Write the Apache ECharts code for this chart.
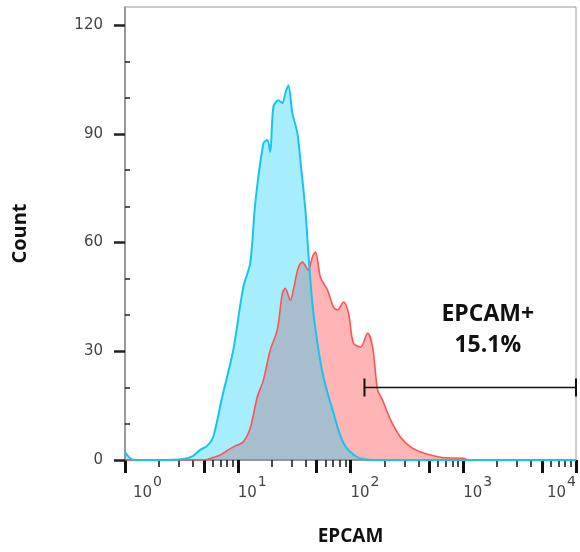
<!DOCTYPE html>
<html>
<head>
<meta charset="utf-8">
<script src="https://cdn.jsdelivr.net/npm/echarts@6/dist/echarts.min.js"></script>
<style>
  html, body { margin: 0; padding: 0; background: #fff; }
  #chart { width: 580px; height: 552px; }
</style>
</head>
<body>
<div id="chart"></div>
<script>
// isotype control (blue) and EPCAM stain (red), intensity vs count
const blueX = [1, 1.11, 1.23, 2.05, 3.28, 4.0, 4.64, 5.36, 6.05, 7.28, 9.12, 11.2, 12.9, 14.3, 16.9, 18.3, 19.4, 20.7, 22.9, 24.9, 26.4, 28.1, 30.5, 33.8, 35.9, 39.8, 42.3, 45.9, 50.9, 57.5, 70.6, 86.7, 115, 160, 10000]
const blueY = [2.2, 0.5, 0, 0, 0.3, 1.1, 2.8, 3.9, 6.3, 17.4, 30.3, 47.7, 54.3, 70.9, 87.4, 88.3, 85.0, 97.4, 99.3, 98.5, 101.2, 103.4, 95.7, 90.2, 82.8, 69, 57.1, 43.3, 32.3, 22.9, 13, 4.7, 0.8, 0, 0]

const redX = [1, 2.51, 5.14, 5.93, 6.99, 8.23, 9.5, 11.2, 12.9, 14.9, 16.9, 19.4, 22.4, 24.9, 26.4, 29.3, 31.1, 34.5, 37.4, 42.3, 45.9, 48.9, 54.1, 62.5, 70.6, 76.6, 86.7, 95.9, 106, 123, 142, 157, 174, 192, 227, 278, 341, 419, 514, 699, 1010, 1110, 10000]
const redY = [0, 0, 0, 0.6, 1.4, 2.8, 3.9, 5.0, 8.8, 17.4, 22.1, 30.3, 35.9, 46.1, 47.4, 44.1, 46.9, 53.2, 54.6, 52.4, 56, 57.4, 50.5, 46.9, 42.2, 41.4, 43.6, 40.6, 32.3, 31.2, 35, 31.2, 19.3, 16.6, 11, 6.3, 3.6, 2.2, 1.4, 0.6, 0.5, 0, 0]

// gate
const gateX = [133, 10000]
const gateY = 20
const gateText = 'EPCAM+\n15.1%'
const gateTextAt = [1650, 36]

// axis ticks
const yMajor = [0, 30, 60, 90, 120]
const yMinor = [10, 20, 40, 50, 70, 80, 100, 110]
const decades = [0, 1, 2, 3, 4]
const xMajor = [1, 5, 10, 50, 100, 500, 1000, 5000, 10000]
const xMinor = []
for (const d of [1, 10, 100, 1000]) {
  for (const k of [2, 3, 4, 6, 7, 8, 9]) xMinor.push(k * d)
}

const pairs = (xs, ys) => xs.map((x, i) => [x, ys[i]])
const lg = (arr) => arr.map((v) => Math.log10(v))

const labelColor = '#444'
const supRich = {
  base: { fontSize: 15, color: labelColor, fontFamily: 'DejaVu Sans', verticalAlign: 'bottom' },
  first: { fontSize: 15, color: labelColor, fontFamily: 'DejaVu Sans', verticalAlign: 'bottom', padding: [0, 0, 0, 8] },
  sup: { fontSize: 14, color: labelColor, fontFamily: 'DejaVu Sans', verticalAlign: 'bottom', padding: [0, 0, 12, 1] },
}
const decadeLabel = (v) => (v === 0 ? '{first|10}' : '{base|10}') + '{sup|' + v + '}'

const chart = echarts.init(document.getElementById('chart'))
chart.setOption({
  animation: false,
  backgroundColor: '#fff',
  grid: {
    left: 125,
    right: 4,
    top: 7,
    bottom: 92,
    show: true,
    borderColor: '#999',
    borderWidth: 1,
    outerBoundsMode: 'none',
  },
  xAxis: [
    {
      type: 'log',
      logBase: 10,
      min: 1,
      max: 10000,
      position: 'bottom',
      name: 'EPCAM',
      nameLocation: 'middle',
      nameGap: 67,
      nameTextStyle: { fontFamily: 'Open Sans', fontWeight: 'bold', fontSize: 19, color: '#111' },
      axisLine: { show: true, lineStyle: { color: '#888', width: 1.5 } },
      axisTick: { show: false },
      axisLabel: { show: false },
      splitLine: { show: false },
    },
    {
      type: 'value',
      min: 0,
      max: 4,
      position: 'bottom',
      axisLine: { show: false },
      axisTick: { show: true, customValues: lg(xMinor), length: 7, lineStyle: { color: '#111', width: 1.5 } },
      axisLabel: {
        show: true,
        customValues: [4],
        align: 'right',
        margin: 15,
        formatter: decadeLabel,
        rich: supRich,
      },
      splitLine: { show: false },
    },
    {
      type: 'value',
      min: 0,
      max: 4,
      position: 'bottom',
      axisLine: { show: false },
      axisTick: { show: true, customValues: lg(xMajor), length: 13, lineStyle: { color: '#111', width: 3 } },
      axisLabel: {
        show: true,
        customValues: decades.slice(0, 4),
        align: 'left',
        margin: 15,
        formatter: decadeLabel,
        rich: supRich,
      },
      splitLine: { show: false },
    },
  ],
  yAxis: [
    {
      type: 'value',
      min: 0,
      max: 125,
      name: 'Count',
      nameLocation: 'middle',
      nameGap: 95,
      nameTextStyle: { fontFamily: 'Open Sans', fontWeight: 'bold', fontSize: 20, color: '#111' },
      axisLine: { show: true, lineStyle: { color: '#888', width: 1.5 } },
      axisTick: { show: true, customValues: yMajor, length: 11, lineStyle: { color: '#222', width: 2.5 } },
      axisLabel: {
        customValues: yMajor,
        margin: 22,
        fontSize: 15,
        fontFamily: 'DejaVu Sans',
        color: labelColor,
      },
      splitLine: { show: false },
    },
    {
      type: 'value',
      min: 0,
      max: 125,
      axisLine: { show: false },
      axisTick: { show: true, customValues: yMinor, length: 5, lineStyle: { color: '#222', width: 1.5 } },
      axisLabel: { show: false },
      splitLine: { show: false },
    },
  ],
  series: [
    {
      name: 'EPCAM',
      type: 'line',
      xAxisIndex: 0,
      yAxisIndex: 0,
      smooth: 0.3,
      showSymbol: false,
      lineStyle: { color: '#ff5252', width: 1.6 },
      areaStyle: { color: 'rgba(255, 60, 60, 0.38)', opacity: 1 },
      data: pairs(redX, redY),
    },
    {
      name: 'Control',
      type: 'line',
      xAxisIndex: 0,
      yAxisIndex: 0,
      smooth: 0.3,
      showSymbol: false,
      lineStyle: { color: '#16c4ef', width: 2 },
      areaStyle: { color: 'rgba(0, 205, 250, 0.35)', opacity: 1 },
      data: pairs(blueX, blueY),
    },
    {
      name: 'Gate',
      type: 'line',
      xAxisIndex: 0,
      yAxisIndex: 0,
      symbol: 'rect',
      symbolSize: [2, 18],
      showSymbol: true,
      itemStyle: { color: '#111' },
      lineStyle: { color: '#111', width: 1.5 },
      data: gateX.map((x) => [x, gateY]),
      markPoint: {
        symbolSize: 0,
        label: {
          show: true,
          position: 'inside',
          formatter: gateText,
          fontFamily: 'Open Sans',
          fontWeight: 'bold',
          fontSize: 23,
          lineHeight: 31,
          color: '#111',
          align: 'center',
        },
        data: [{ coord: gateTextAt }],
      },
    },
  ],
})

window.addEventListener('resize', () => chart.resize())
</script>
</body>
</html>
